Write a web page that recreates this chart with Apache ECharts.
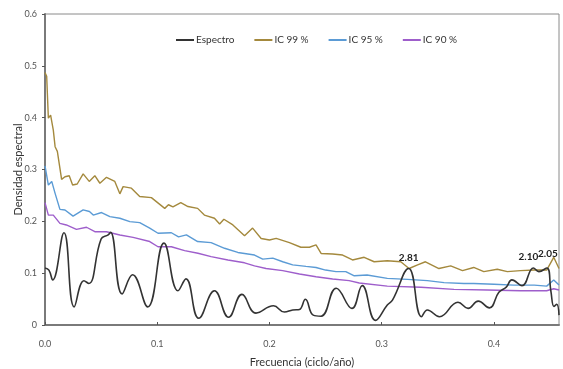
<!DOCTYPE html>
<html>
<head>
<meta charset="utf-8">
<script src="https://cdn.jsdelivr.net/npm/echarts@6/dist/echarts.min.js"></script>
<style>
  html, body { margin: 0; padding: 0; background: #fff; }
  #chart { width: 563px; height: 369px; }
</style>
</head>
<body>
<div id="chart"></div>
<script>
// [frecuencia, densidad]
const espectro = [
  [0.000, 0.110], [0.0035, 0.106], [0.0068, 0.087], [0.0169, 0.178], [0.026, 0.035],
  [0.0347, 0.0855], [0.039, 0.080], [0.050, 0.166], [0.0563, 0.174], [0.0584, 0.179],
  [0.0687, 0.060], [0.078, 0.097], [0.0915, 0.035], [0.106, 0.158], [0.1185, 0.066],
  [0.1256, 0.089], [0.137, 0.013], [0.151, 0.066], [0.1636, 0.015], [0.1755, 0.059],
  [0.188, 0.023], [0.2036, 0.037], [0.2133, 0.025], [0.2207, 0.029], [0.2267, 0.030],
  [0.232, 0.0496], [0.239, 0.019], [0.246, 0.017], [0.2595, 0.071], [0.2735, 0.032],
  [0.2827, 0.076], [0.2945, 0.009], [0.305, 0.0386], [0.3096, 0.048], [0.324, 0.109],
  [0.3355, 0.016], [0.3407, 0.029], [0.3515, 0.016], [0.368, 0.044], [0.377, 0.032],
  [0.386, 0.046], [0.396, 0.033], [0.4044, 0.063], [0.411, 0.073], [0.416, 0.087],
  [0.425, 0.076], [0.4352, 0.110], [0.440, 0.103], [0.4472, 0.110], [0.4508, 0.065],
  [0.4535, 0.036], [0.456, 0.040], [0.458, 0.019]
];

const ic99 = [
  [0.000, 0.487], [0.0015, 0.480], [0.003, 0.399], [0.005, 0.405], [0.0074, 0.376],
  [0.009, 0.344], [0.011, 0.335], [0.0148, 0.281], [0.0178, 0.286], [0.0216, 0.288],
  [0.0246, 0.270], [0.0287, 0.272], [0.034, 0.2915], [0.0394, 0.277], [0.0444, 0.288],
  [0.0489, 0.2735], [0.0548, 0.285], [0.0622, 0.277], [0.0667, 0.253], [0.0696, 0.267],
  [0.077, 0.264], [0.0844, 0.248], [0.0948, 0.2458], [0.1067, 0.225], [0.110, 0.232],
  [0.114, 0.228], [0.121, 0.236], [0.1274, 0.2285], [0.136, 0.225], [0.142, 0.212],
  [0.151, 0.206], [0.1556, 0.195], [0.1594, 0.204], [0.1674, 0.193], [0.1778, 0.172],
  [0.185, 0.187], [0.1926, 0.167], [0.200, 0.164], [0.206, 0.167], [0.2178, 0.159],
  [0.228, 0.150], [0.2356, 0.150], [0.2415, 0.1545], [0.246, 0.138], [0.2563, 0.137],
  [0.2652, 0.135], [0.274, 0.1255], [0.2844, 0.1306], [0.2933, 0.122], [0.305, 0.124],
  [0.317, 0.122], [0.3244, 0.109], [0.332, 0.116], [0.339, 0.122], [0.351, 0.109],
  [0.3615, 0.114], [0.372, 0.105], [0.382, 0.111], [0.391, 0.103], [0.403, 0.1075],
  [0.412, 0.103], [0.4237, 0.105], [0.436, 0.106], [0.447, 0.106], [0.4533, 0.1306],
  [0.458, 0.109]
];

const ic95 = [
  [0.000, 0.307], [0.003, 0.270], [0.006, 0.277], [0.009, 0.254], [0.0133, 0.223],
  [0.0178, 0.222], [0.025, 0.210], [0.034, 0.222], [0.0396, 0.219], [0.043, 0.212],
  [0.0504, 0.217], [0.0578, 0.209], [0.0667, 0.206], [0.0756, 0.1995], [0.0844, 0.1975],
  [0.0933, 0.187], [0.1007, 0.177], [0.1126, 0.178], [0.119, 0.170], [0.126, 0.174],
  [0.136, 0.161], [0.148, 0.159], [0.160, 0.148], [0.1718, 0.140], [0.1867, 0.135],
  [0.194, 0.127], [0.203, 0.129], [0.2118, 0.122], [0.2207, 0.116], [0.2326, 0.113],
  [0.2415, 0.111], [0.250, 0.106], [0.2593, 0.103], [0.268, 0.103], [0.2756, 0.095],
  [0.287, 0.0965], [0.305, 0.090], [0.323, 0.088], [0.3407, 0.0856], [0.3556, 0.0817],
  [0.3733, 0.080], [0.382, 0.080], [0.400, 0.0785], [0.4178, 0.077], [0.436, 0.077],
  [0.447, 0.075], [0.4533, 0.087], [0.458, 0.077]
];

const ic90 = [
  [0.000, 0.236], [0.003, 0.212], [0.0074, 0.212], [0.0133, 0.196], [0.019, 0.193],
  [0.028, 0.1846], [0.037, 0.1886], [0.0444, 0.180], [0.0548, 0.180], [0.0667, 0.1737],
  [0.0785, 0.169], [0.0933, 0.161], [0.1007, 0.151], [0.1126, 0.151], [0.1244, 0.1435],
  [0.1363, 0.1384], [0.148, 0.132], [0.163, 0.1255], [0.1778, 0.120], [0.1867, 0.114],
  [0.197, 0.109], [0.2118, 0.105], [0.2267, 0.0985], [0.2415, 0.093], [0.2563, 0.0888],
  [0.271, 0.0856], [0.280, 0.081], [0.305, 0.075], [0.335, 0.0727], [0.3644, 0.0688],
  [0.394, 0.0675], [0.4237, 0.066], [0.447, 0.066], [0.4533, 0.070], [0.458, 0.0675]
];

// picos etiquetados: [frecuencia, densidad, texto]
const picos = [
  [0.324, 0.109, '2.81'],
  [0.4352, 0.110, '2.10'],
  [0.4472, 0.110, '2.05']
];
const desplazamientos = [[0, 0], [-5, 0], [1, -3]];

const fuente = 'Lato, "Open Sans", sans-serif';
const chart = echarts.init(document.getElementById('chart'));

chart.setOption({
  animation: false,
  textStyle: { fontFamily: fuente },
  grid: {
    left: 45, right: 4, top: 14, bottom: 44,
    outerBoundsMode: 'none',
    show: true, borderColor: '#8a8a8a', borderWidth: 1
  },
  legend: {
    left: 171, top: 30,
    itemWidth: 18, itemHeight: 2, itemGap: 20,
    icon: 'rect',
    textStyle: { fontFamily: fuente, fontSize: 10, color: '#333', padding: [0, 0, 0, -3] },
    data: ['Espectro', 'IC 99 %', 'IC 95 %', 'IC 90 %']
  },
  xAxis: {
    type: 'value',
    min: 0, max: 0.458, interval: 0.1,
    name: 'Frecuencia (ciclo/año)',
    nameLocation: 'middle', nameGap: 32, nameMoveOverlap: false,
    nameTextStyle: { fontFamily: fuente, fontSize: 11, color: '#333' },
    axisLine: { lineStyle: { color: '#7a7a7a', width: 2 } },
    axisTick: { inside: true, length: 3, lineStyle: { color: '#555' } },
    axisLabel: {
      fontSize: 9, color: '#555', margin: 15, showMaxLabel: false,
      formatter: v => v.toFixed(1)
    },
    splitLine: { show: false }
  },
  yAxis: {
    type: 'value',
    min: 0, max: 0.6, interval: 0.1,
    name: 'Densidad espectral',
    nameLocation: 'middle', nameGap: 21, nameMoveOverlap: false,
    nameTextStyle: { fontFamily: fuente, fontSize: 11, color: '#333' },
    axisLine: { show: true, lineStyle: { color: '#7a7a7a', width: 2 } },
    axisTick: { show: true, length: 3, lineStyle: { color: '#555' } },
    axisLabel: {
      fontSize: 9, color: '#555', margin: 8,
      formatter: v => (v === 0 ? '0' : v.toFixed(1))
    },
    splitLine: { show: false }
  },
  series: [
    {
      name: 'Espectro', type: 'line', data: espectro,
      smooth: 0.45, showSymbol: false,
      lineStyle: { color: '#333333', width: 1.6 },
      itemStyle: { color: '#333333' },
      markPoint: {
        symbol: 'circle', symbolSize: 0,
        label: {
          show: true, position: 'top', distance: 6,
          fontFamily: fuente, fontSize: 10, fontWeight: 'bold', color: '#222',
          formatter: p => p.name
        },
        data: picos.map((p, i) => ({
          name: p[2], coord: [p[0], p[1]],
          label: { offset: desplazamientos[i] }
        }))
      },
      z: 5
    },
    {
      name: 'IC 99 %', type: 'line', data: ic99, showSymbol: false,
      lineStyle: { color: '#a4893d', width: 1.4 }, itemStyle: { color: '#a4893d' }
    },
    {
      name: 'IC 95 %', type: 'line', data: ic95, showSymbol: false,
      lineStyle: { color: '#5b9bd5', width: 1.4 }, itemStyle: { color: '#5b9bd5' }
    },
    {
      name: 'IC 90 %', type: 'line', data: ic90, showSymbol: false,
      lineStyle: { color: '#9e5ecb', width: 1.4 }, itemStyle: { color: '#9e5ecb' }
    }
  ]
});
</script>
</body>
</html>
